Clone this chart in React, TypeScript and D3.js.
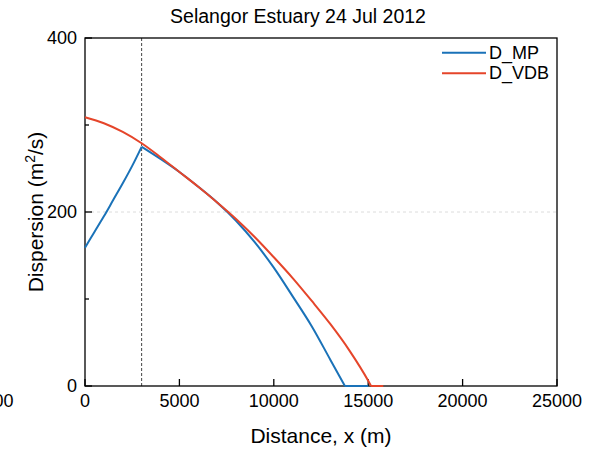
import React from "react";
import * as d3 from "d3";

const title = "Selangor Estuary 24 Jul 2012";
const xTicks = [0, 5000, 10000, 15000, 20000, 25000];
const yMajorTicks = [0, 200, 400];
const yMinorTicks = [100, 300];
const vLineX = 3000;

const mpX = [0, 500, 1000, 1500, 2000, 2500, 3000, 4000, 5000, 6000, 7000, 8000, 9000, 10000, 11000, 12000, 13000, 13766, 15000];
const mpY = [159, 177, 195, 214, 233, 253, 275, 261, 246, 229, 211, 190, 165, 136, 103, 69, 30, 0, 0];
const mpBreaks = [6, 17];

const vdbX = [0, 1000, 2000, 3000, 4000, 5000, 6000, 7000, 8000, 9000, 10000, 11000, 12000, 13000, 14000, 15000, 15150, 15800];
const vdbY = [309, 302, 292, 279, 263, 246, 229, 211, 192, 171, 148, 124, 98, 71, 41, 6, 0, 0];
const vdbBreaks = [16];

const seriesNames = ["D_MP", "D_VDB"];
const colors = ["#1a72b8", "#e5452a"];

const W = 590;
const H = 451;
const m = { left: 85, right: 557, top: 38, bottom: 386 };
const font = "'Liberation Sans', Arial, Helvetica, sans-serif";

function pieces(xs: number[], ys: number[], breaks: number[]) {
  const pts = xs.map((v, i) => [v, ys[i]] as [number, number]);
  const cuts = [0, ...breaks, pts.length - 1];
  const out: [number, number][][] = [];
  for (let k = 0; k < cuts.length - 1; k++) out.push(pts.slice(cuts[k], cuts[k + 1] + 1));
  return out;
}

export default function App() {
  const x = d3.scaleLinear().domain([0, 25000]).range([m.left, m.right]);
  const y = d3.scaleLinear().domain([0, 400]).range([m.bottom, m.top]);
  const line = d3
    .line<[number, number]>()
    .x((d) => x(d[0]))
    .y((d) => y(d[1]))
    .curve(d3.curveMonotoneX);
  const series = [pieces(mpX, mpY, mpBreaks), pieces(vdbX, vdbY, vdbBreaks)];
  return (
    <div style={{ position: "absolute", left: 0, top: 0 }}>
      <svg width={W} height={H} style={{ display: "block", background: "#fff" }} fontFamily={font}>
        <line x1={m.left} x2={m.right} y1={y(200)} y2={y(200)} stroke="#dcdcdc" strokeWidth={1} strokeDasharray="3,3" />
        <line x1={x(vLineX)} x2={x(vLineX)} y1={m.top} y2={m.bottom} stroke="#444" strokeWidth={1} strokeDasharray="3,2" />
        <rect x={m.left} y={m.top} width={m.right - m.left} height={m.bottom - m.top} fill="none" stroke="#000" strokeWidth={1.3} />
        {xTicks.map((t) => (
          <g key={"x" + t}>
            <line x1={x(t)} x2={x(t)} y1={m.bottom} y2={m.bottom - 7} stroke="#000" strokeWidth={1.3} />
            <text x={x(t)} y={407} textAnchor="middle" fontSize={18} fill="#000">
              {t}
            </text>
          </g>
        ))}
        <text x={x(-5000)} y={407} textAnchor="middle" fontSize={18} fill="#000">
          -5000
        </text>
        {yMajorTicks.map((t) => (
          <g key={"y" + t}>
            <line x1={m.left} x2={m.left + 7} y1={y(t)} y2={y(t)} stroke="#000" strokeWidth={1.3} />
            <text x={77} y={y(t)} textAnchor="end" dominantBaseline="central" fontSize={18} fill="#000">
              {t}
            </text>
          </g>
        ))}
        {yMinorTicks.map((t) => (
          <line key={"ym" + t} x1={m.left} x2={m.left + 4} y1={y(t)} y2={y(t)} stroke="#000" strokeWidth={1.3} />
        ))}
        {series.map((s, i) => (
          <path
            key={i}
            d={s.map((p) => line(p) || "").join("")}
            fill="none"
            stroke={colors[i]}
            strokeWidth={2}
            strokeLinejoin="round"
          />
        ))}
        {seriesNames.map((n, i) => (
          <g key={n}>
            <line x1={442} x2={486} y1={52.7 + i * 20.6} y2={52.7 + i * 20.6} stroke={colors[i]} strokeWidth={2} />
            <text x={489} y={52.7 + i * 20.6} dominantBaseline="central" fontSize={18} fill="#000">
              {n}
            </text>
          </g>
        ))}
        <text x={298} y={23} textAnchor="middle" fontSize={19.5} fill="#000">
          {title}
        </text>
        <text x={(m.left + m.right) / 2} y={443} textAnchor="middle" fontSize={21} fill="#000">
          Distance, x (m)
        </text>
        <text
          transform={`translate(43,${(m.top + m.bottom) / 2}) rotate(-90)`}
          textAnchor="middle"
          fontSize={21}
          fill="#000"
        >
          Dispersion (m<tspan fontSize={14} dy={-8}>2</tspan>
          <tspan dy={8}>/s)</tspan>
        </text>
      </svg>
    </div>
  );
}
